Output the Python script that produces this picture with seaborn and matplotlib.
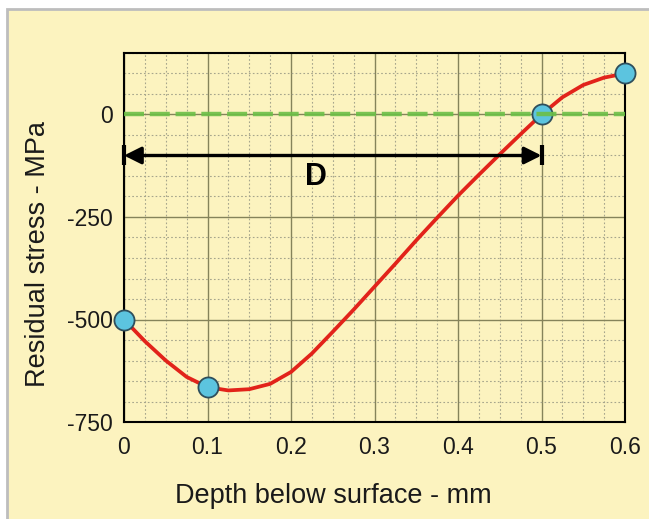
import numpy as np
import pandas as pd
import matplotlib
matplotlib.use("Agg")
import matplotlib.pyplot as plt
import matplotlib.patches as patches
from matplotlib.ticker import MultipleLocator
import seaborn as sns

# measured points (blue markers)
point_depth = [0.0, 0.1, 0.5, 0.6]
point_stress = [-500, -665, 0, 100]

# red curve, every 0.025 mm
curve_depth = [0.0, 0.025, 0.05, 0.075, 0.1, 0.125, 0.15, 0.175, 0.2, 0.225,
               0.25, 0.275, 0.3, 0.325, 0.35, 0.375, 0.4, 0.425, 0.45, 0.475,
               0.5, 0.525, 0.55, 0.575, 0.6]
curve_stress = [-500, -553, -600, -640, -665, -673, -670, -657, -628, -583,
                -530, -476, -420, -364, -307, -252, -198, -147, -97, -48,
                0, 42, 72, 90, 100]

# dimension D
d_start, d_end, d_level = 0.0, 0.5, -100
d_label = "D"

x_ticks = [0, 0.1, 0.2, 0.3, 0.4, 0.5, 0.6]
x_ticklabels = ["0", "0.1", "0.2", "0.3", "0.4", "0.5", "0.6"]
y_ticks = [-750, -500, -250, 0]

YELLOW = "#fcf3bf"

sns.set_style("white")
plt.rcParams["font.family"] = ["Liberation Sans", "DejaVu Sans"]
plt.rcParams["axes.unicode_minus"] = False

fig = plt.figure(figsize=(6.49, 5.19), dpi=100, facecolor="white")
fig.patches.append(patches.Rectangle((7 / 649, -0.01), 1.02, 1.01 - 9 / 519,
                                     transform=fig.transFigure, facecolor=YELLOW,
                                     edgecolor="#bdbdbd", linewidth=2, zorder=-10))
ax = fig.add_axes([124 / 649, 1 - 422 / 519, 501 / 649, 369 / 519])
ax.set_facecolor(YELLOW)

curve = pd.DataFrame({"depth": curve_depth, "stress": curve_stress})
pts = pd.DataFrame({"depth": point_depth, "stress": point_stress})

sns.lineplot(data=curve, x="depth", y="stress", sort=False, estimator=None,
             color="#e2231a", linewidth=2.7, ax=ax, zorder=3)

# zero line
ax.axhline(0, color="#6cbf47", linewidth=3.2, dashes=(4.5, 1.3), zorder=5, alpha=0.9)

sns.scatterplot(data=pts, x="depth", y="stress", s=210, color="#5cc4df",
                edgecolor="#2f4f5c", linewidth=1.3, ax=ax, zorder=4)
for c in ax.collections:
    c.set_clip_on(False)

# D arrow
ax.annotate("", xy=(d_end, d_level), xytext=(d_start, d_level),
            arrowprops=dict(arrowstyle="<|-|>", color="black", lw=2.4,
                            mutation_scale=26, shrinkA=0, shrinkB=0), zorder=6)
ax.plot([d_start, d_end], [d_level, d_level], ls="none", marker="|",
        markersize=15, mew=3, color="black", zorder=6, clip_on=False)
ax.text(0.23, -152, d_label, fontsize=22, fontweight="bold", ha="center",
        va="center", color="black")

ax.set_xlim(0, 0.6)
ax.set_ylim(-750, 150)
ax.set_xticks(x_ticks)
ax.set_xticklabels(x_ticklabels)
ax.set_yticks(y_ticks)
ax.xaxis.set_minor_locator(MultipleLocator(0.025))
ax.yaxis.set_minor_locator(MultipleLocator(50))
ax.grid(which="major", color="#85835a", linewidth=1.0, linestyle="-")
ax.grid(which="minor", color="#a6a58c", linewidth=0.8, linestyle=(0, (1.5, 2)))
ax.set_axisbelow(True)
ax.tick_params(which="both", length=0, labelsize=16.5, colors="#1a1a1a")
ax.tick_params(axis="x", pad=10)
ax.tick_params(axis="y", pad=8)
for s in ax.spines.values():
    s.set_color("black")
    s.set_linewidth(1.5)
    s.set_visible(True)

ax.set_xlabel("Depth below surface - mm", fontsize=19.5, color="#1a1a1a")
ax.set_ylabel("Residual stress - MPa", fontsize=19.5, color="#1a1a1a")
ax.xaxis.set_label_coords(0.418, -0.165)
ax.yaxis.set_label_coords(-0.146, 0.455)

fig.savefig("out.png", dpi=100, facecolor=fig.get_facecolor())
